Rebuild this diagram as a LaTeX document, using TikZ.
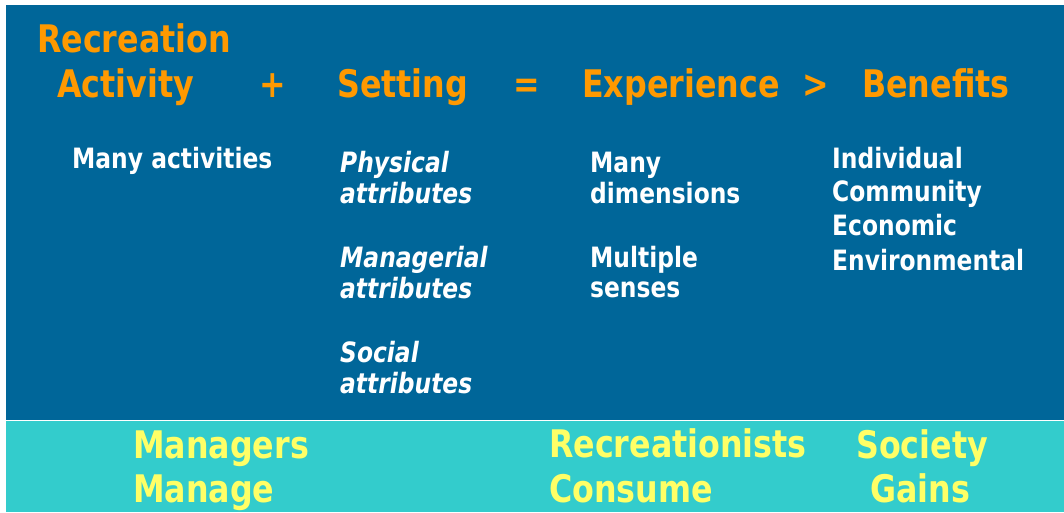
\documentclass[tikz,border=0pt]{standalone}
\usepackage{fontspec}
\setmainfont{DejaVu Sans}[FakeStretch=0.835]
\definecolor{bandblue}{RGB}{0,102,153}
\definecolor{bandteal}{RGB}{51,204,204}
\definecolor{headorange}{RGB}{255,153,0}
\definecolor{footyellow}{RGB}{255,255,102}
\begin{document}
\begin{tikzpicture}[x=1pt,y=-1pt,
  txt/.style={inner sep=0pt,anchor=base west,font=\bfseries},
  head/.style={txt,text=headorange,font=\fontsize{38}{40}\selectfont\bfseries},
  body/.style={txt,text=white,font=\fontsize{28}{30}\selectfont\bfseries},
  slant/.style={body,font=\fontsize{28}{30}\selectfont\bfseries\itshape},
  foot/.style={txt,text=footyellow,font=\fontsize{38}{40}\selectfont\bfseries}]
\useasboundingbox (0,0) rectangle (1064,512);
\fill[white] (0,0) rectangle (1064,512);
% bands
\fill[bandblue] (6,5) rectangle (1064,419.5);
\fill[bandteal] (6,421) rectangle (1064,512);
% heading equation
\node[head] (hrec) at (37,52) {Recreation};
\node[head] (hact) at (57,97) {Activity};
\node[head] (hplus) at (259,97) {+};
\node[head] (hset) at (337,97) {Setting};
\node[head] (heq) at (513,97) {=};
\node[head] (hexp) at (582,97) {Experience};
\node[head] (hgt) at (802,97) {>};
\node[head] (hben) at (862,97) {Benefits};
% activity column
\node[body] (a1) at (72,168) {Many activities};
% setting column
\node[slant] (s1) at (340,172) {Physical};
\node[slant] (s2) at (340,203) {attributes};
\node[slant] (s3) at (340,267) {Managerial};
\node[slant] (s4) at (340,298) {attributes};
\node[slant] (s5) at (340,362) {Social};
\node[slant] (s6) at (340,393) {attributes};
% experience column
\node[body] (e1) at (590,172) {Many};
\node[body] (e2) at (590,203) {dimensions};
\node[body] (e3) at (590,267) {Multiple};
\node[body] (e4) at (590,297) {senses};
% benefits column
\node[body] (b1) at (832,168) {Individual};
\node[body] (b2) at (832,201) {Community};
\node[body] (b3) at (832,235) {Economic};
\node[body] (b4) at (832,270) {Environmental};
% roles
\node[foot] (f1) at (133,458) {Managers};
\node[foot] (f2) at (133,502) {Manage};
\node[foot] (f3) at (549,457) {Recreationists};
\node[foot] (f4) at (549,502) {Consume};
\node[foot,anchor=base] (f5) at (922,458) {Society};
\node[foot,anchor=base] (f6) at (920,502) {Gains};
\end{tikzpicture}
\end{document}
